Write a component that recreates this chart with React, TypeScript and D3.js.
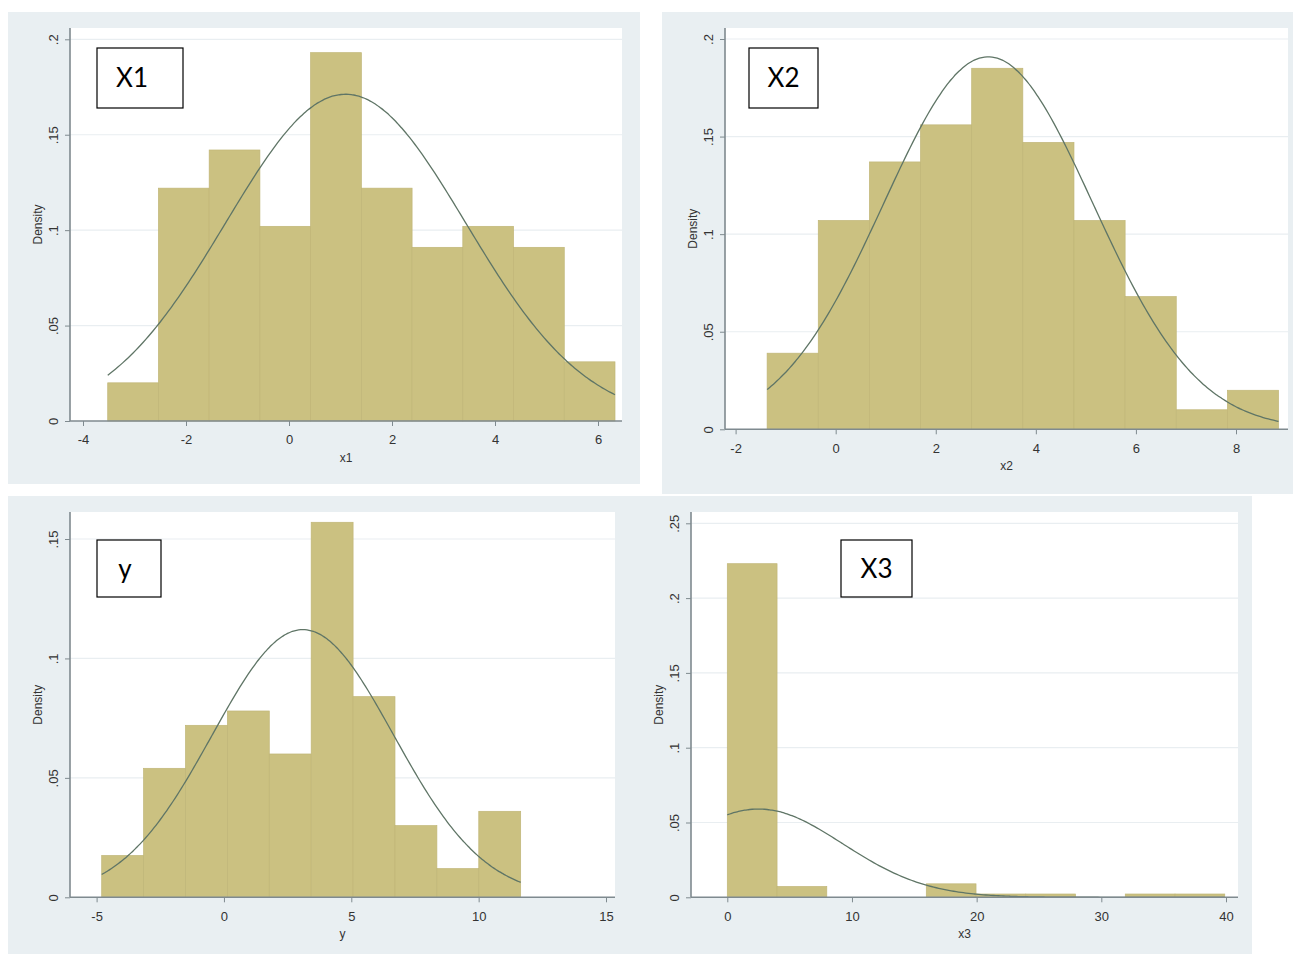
import React, { useEffect, useRef } from "react";
import * as d3 from "d3";

// x1 histogram (density per bin), bins start at x1BinStart with equal width
const x1Density = [0.02, 0.122, 0.142, 0.102, 0.193, 0.122, 0.091, 0.102, 0.091, 0.031];
const x1BinStart = -3.52;
const x1BinWidth = 0.985;
const x1Mean = 1.1;
const x1Sd = 2.33;
const x1XTicks = [-4, -2, 0, 2, 4, 6];
const x1YTicks = [0, 0.05, 0.1, 0.15, 0.2];
const x1YLabels = ["0", ".05", ".1", ".15", ".2"];

// x2
const x2Density = [0.039, 0.107, 0.137, 0.156, 0.185, 0.147, 0.107, 0.068, 0.01, 0.02];
const x2BinStart = -1.37;
const x2BinWidth = 1.022;
const x2Mean = 3.05;
const x2Sd = 2.09;
const x2XTicks = [-2, 0, 2, 4, 6, 8];
const x2YTicks = [0, 0.05, 0.1, 0.15, 0.2];
const x2YLabels = ["0", ".05", ".1", ".15", ".2"];

// y
const yDensity = [0.0175, 0.054, 0.072, 0.078, 0.06, 0.157, 0.084, 0.03, 0.012, 0.036];
const yBinStart = -4.8;
const yBinWidth = 1.645;
const yMean = 3.1;
const ySd = 3.56;
const yXTicks = [-5, 0, 5, 10, 15];
const yYTicks = [0, 0.05, 0.1, 0.15];
const yYLabels = ["0", ".05", ".1", ".15"];

// x3
const x3Density = [0.223, 0.0072, 0, 0, 0.009, 0.0022, 0.0022, 0, 0.0022, 0.0022];
const x3BinStart = 0;
const x3BinWidth = 3.99;
const x3Mean = 2.5;
const x3Sd = 6.76;
const x3XTicks = [0, 10, 20, 30, 40];
const x3YTicks = [0, 0.05, 0.1, 0.15, 0.2, 0.25];
const x3YLabels = ["0", ".05", ".1", ".15", ".2", ".25"];

const panels = [
  {
    name: "X1", title: "x1",
    density: x1Density, start: x1BinStart, width: x1BinWidth, mean: x1Mean, sd: x1Sd,
    xTicks: x1XTicks, yTicks: x1YTicks, yLabels: x1YLabels,
    bg: [8, 12, 640, 484], plot: [70, 28, 622, 421],
    xMap: [[-4, 6], [83, 598]], yMap: [[0, 0.2], [421, 39.3]],
    box: [97, 48, 183, 108], boxText: 132,
  },
  {
    name: "X2", title: "x2",
    density: x2Density, start: x2BinStart, width: x2BinWidth, mean: x2Mean, sd: x2Sd,
    xTicks: x2XTicks, yTicks: x2YTicks, yLabels: x2YLabels,
    bg: [662, 12, 1293, 494], plot: [725, 28, 1288, 429.3],
    xMap: [[-2, 8], [735.6, 1236]], yMap: [[0, 0.2], [429.3, 39]],
    box: [749, 48, 818, 108], boxText: 783.5,
  },
  {
    name: "y", title: "y",
    density: yDensity, start: yBinStart, width: yBinWidth, mean: yMean, sd: ySd,
    xTicks: yXTicks, yTicks: yYTicks, yLabels: yYLabels,
    bg: [8, 496, 660, 954], plot: [70, 512, 615, 897.3],
    xMap: [[-5, 15], [96.6, 606]], yMap: [[0, 0.15], [897.3, 539]],
    box: [97, 540, 161, 597], boxText: 125,
  },
  {
    name: "X3", title: "x3",
    density: x3Density, start: x3BinStart, width: x3BinWidth, mean: x3Mean, sd: x3Sd,
    xTicks: x3XTicks, yTicks: x3YTicks, yLabels: x3YLabels,
    bg: [620, 496, 1252, 954], plot: [691, 512, 1238, 897.3],
    xMap: [[0, 40], [727.3, 1226]], yMap: [[0, 0.25], [897.3, 523.3]],
    box: [841, 540, 912, 597], boxText: 876.5,
  },
];

const W = 1293;
const H = 954;
const axisColor = "#7f8a8f";
const textColor = "#333";
const font = "'Liberation Sans', Arial, sans-serif";

const App = () => {
  const ref = useRef<SVGSVGElement>(null);

  useEffect(() => {
    const svg = d3.select(ref.current);
    svg.selectAll("*").remove();
    svg.append("rect").attr("width", W).attr("height", H).attr("fill", "#fff");

    // backgrounds first, the bottom two overlap a little
    panels.forEach((p) => {
      svg.append("rect")
        .attr("x", p.bg[0]).attr("y", p.bg[1])
        .attr("width", p.bg[2] - p.bg[0]).attr("height", p.bg[3] - p.bg[1])
        .attr("fill", "#e9eff2");
    });

    panels.forEach((p) => {
      const [left, top, right, bottom] = p.plot;
      const g = svg.append("g");
      const x = d3.scaleLinear().domain(p.xMap[0]).range(p.xMap[1]);
      const y = d3.scaleLinear().domain(p.yMap[0]).range(p.yMap[1]);

      g.append("rect")
        .attr("x", left).attr("y", top)
        .attr("width", right - left).attr("height", bottom - top)
        .attr("fill", "#fff");

      // grid
      g.append("g")
        .selectAll("line")
        .data(p.yTicks.filter((d) => d > 0))
        .join("line")
        .attr("x1", left).attr("x2", right)
        .attr("y1", (d) => y(d)).attr("y2", (d) => y(d))
        .attr("stroke", "#e9eef1")
        .attr("stroke-width", 1.2);

      // bars
      const bins = p.density.map((d, i) => ({ x0: p.start + i * p.width, x1: p.start + (i + 1) * p.width, d }));
      g.append("g")
        .selectAll("rect")
        .data(bins.filter((b) => b.d > 0))
        .join("rect")
        .attr("x", (b) => x(b.x0))
        .attr("width", (b) => x(b.x1) - x(b.x0))
        .attr("y", (b) => y(b.d))
        .attr("height", (b) => y(0) - y(b.d))
        .attr("fill", "#cbc181")
        .attr("stroke", "#c0b677")
        .attr("stroke-width", 0.7);

      // normal overlay
      const lo = p.start;
      const hi = p.start + p.density.length * p.width;
      const pdf = (v: number) =>
        Math.exp(-0.5 * ((v - p.mean) / p.sd) ** 2) / (p.sd * Math.sqrt(2 * Math.PI));
      const pts = d3.range(0, 201).map((i) => lo + ((hi - lo) * i) / 200);
      g.append("path")
        .datum(pts)
        .attr("d", d3.line<number>().x((v) => x(v)).y((v) => y(pdf(v))).curve(d3.curveBasis))
        .attr("fill", "none")
        .attr("stroke", "#5f7566")
        .attr("stroke-width", 1.3);

      // y axis
      const ya = g.append("g")
        .attr("transform", `translate(${left},0)`)
        .call(d3.axisLeft(y).tickValues(p.yTicks).tickSize(5).tickFormat((d, i) => p.yLabels[i]));
      ya.select(".domain").remove();
      ya.selectAll(".tick line").attr("stroke", axisColor);
      ya.selectAll(".tick text")
        .attr("transform", "rotate(-90)")
        .attr("x", 0)
        .attr("y", -12)
        .attr("dy", 0)
        .attr("text-anchor", "middle")
        .attr("font-size", 13)
        .attr("font-family", font)
        .attr("fill", textColor);
      g.append("line")
        .attr("x1", left).attr("x2", left)
        .attr("y1", top).attr("y2", bottom)
        .attr("stroke", axisColor).attr("stroke-width", 1.6);

      // x axis
      const xa = g.append("g")
        .attr("transform", `translate(0,${bottom})`)
        .call(d3.axisBottom(x).tickValues(p.xTicks).tickSize(5).tickPadding(9).tickFormat((d) => `${d}`));
      xa.select(".domain").remove();
      xa.selectAll(".tick line").attr("stroke", axisColor);
      xa.selectAll(".tick text")
        .attr("font-size", 13)
        .attr("font-family", font)
        .attr("fill", textColor);
      g.append("line")
        .attr("x1", left).attr("x2", right)
        .attr("y1", bottom).attr("y2", bottom)
        .attr("stroke", axisColor).attr("stroke-width", 1.6);

      // titles
      g.append("text")
        .attr("x", (left + right) / 2)
        .attr("y", bottom + 41)
        .attr("text-anchor", "middle")
        .attr("font-size", 12)
        .attr("font-family", font)
        .attr("fill", textColor)
        .text(p.title);
      g.append("text")
        .attr("transform", `translate(${left - 28},${(top + bottom) / 2}) rotate(-90)`)
        .attr("text-anchor", "middle")
        .attr("font-size", 12)
        .attr("font-family", font)
        .attr("fill", textColor)
        .text("Density");

      // label box
      g.append("rect")
        .attr("x", p.box[0]).attr("y", p.box[1])
        .attr("width", p.box[2] - p.box[0]).attr("height", p.box[3] - p.box[1])
        .attr("fill", "#fff")
        .attr("stroke", "#000")
        .attr("stroke-width", 1.2);
      g.append("text")
        .attr("x", p.boxText)
        .attr("y", (p.box[1] + p.box[3]) / 2)
        .attr("dy", "0.36em")
        .attr("text-anchor", "middle")
        .attr("font-size", 26)
        .attr("font-family", "Lato, 'Open Sans', sans-serif")
        .attr("fill", "#000")
        .text(p.name);
    });
  }, []);

  return <svg ref={ref} width={W} height={H} style={{ position: "absolute", left: 0, top: 0 }} />;
};

export default App;
